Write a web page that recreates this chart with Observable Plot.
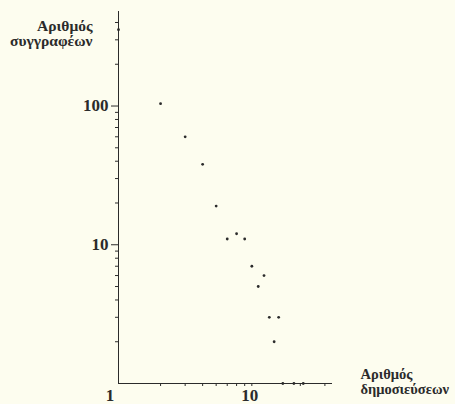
<!DOCTYPE html>
<html>
<head>
<meta charset="utf-8">
<script src="https://cdn.jsdelivr.net/npm/d3@7"></script>
<script src="https://cdn.jsdelivr.net/npm/@observablehq/plot@0.6"></script>
<style>
  html, body { margin: 0; padding: 0; background: #fdfdef; }
  #chart svg { display: block; }
</style>
</head>
<body>
<div id="chart"></div>
<script>
// Number of publications (x) and number of authors (y)
const publications = [1, 2, 3, 4, 5, 6, 7, 8, 9, 10, 11, 12, 13, 14, 15, 18, 21];
const authors      = [355, 104, 60, 38, 19, 11, 12, 11, 7, 5, 6, 3, 2, 3, 1, 1, 1];

const xMajorTicks = [1, 10];
const xMinorTicks = [2, 3, 4, 5, 6, 7, 8, 9, 20, 30];
const yMajorTicks = [10, 100];
const yMinorTicks = [2, 3, 4, 5, 6, 7, 8, 9, 20, 30, 40, 50, 60, 70, 80, 90, 200, 300, 400];

const yTitle = "Αριθμός\nσυγγραφέων";
const xTitle = "Αριθμός\nδημοσιεύσεων";

const data = publications.map((p, i) => ({pubs: p, authors: authors[i]}));
const ink = "#2b2b2b";
const bg = "#fdfdef";

const chart = Plot.plot({
  width: 455,
  height: 404,
  marginLeft: 118,
  marginRight: 123,
  marginTop: 11,
  marginBottom: 21,
  x: {type: "log", domain: [1, 34]},
  y: {type: "log", domain: [1, 480]},
  style: {background: bg, fontFamily: "Liberation Serif, serif", color: ink},
  marks: [
    Plot.ruleX([1], {stroke: ink, strokeWidth: 1}),
    Plot.ruleY([1], {stroke: ink, strokeWidth: 1}),
    Plot.axisY({ticks: yMinorTicks, tickSize: 3, tickFormat: () => "", label: null, stroke: ink}),
    Plot.axisY({ticks: yMajorTicks, tickSize: 7, tickPadding: 3, tickFormat: d => String(d),
      label: null, fontSize: 17, fontWeight: "bold", fill: ink, stroke: ink}),
    Plot.axisX({ticks: xMinorTicks, tickSize: 3, tickFormat: () => "", label: null, stroke: ink}),
    Plot.axisX({ticks: xMajorTicks, tickSize: 0, tickPadding: 5, dx: -8.5, tickFormat: d => String(d),
      label: null, fontSize: 17, fontWeight: "bold", fill: ink}),
    Plot.dot(data, {x: "pubs", y: "authors", r: 1.4, fill: ink, stroke: null}),
    Plot.text([yTitle], {frameAnchor: "top-left", dx: -26, dy: 8, text: d => d,
      textAnchor: "end", lineAnchor: "top", lineHeight: 1.0, fontSize: 15.5, fontWeight: "bold", fill: ink}),
    Plot.text([xTitle], {frameAnchor: "bottom-right", dx: 28, dy: 10, text: d => d,
      textAnchor: "start", lineAnchor: "bottom", lineHeight: 1.0, fontSize: 14.5, fontWeight: "bold", fill: ink})
  ]
});
document.getElementById("chart").appendChild(chart);
</script>
</body>
</html>
